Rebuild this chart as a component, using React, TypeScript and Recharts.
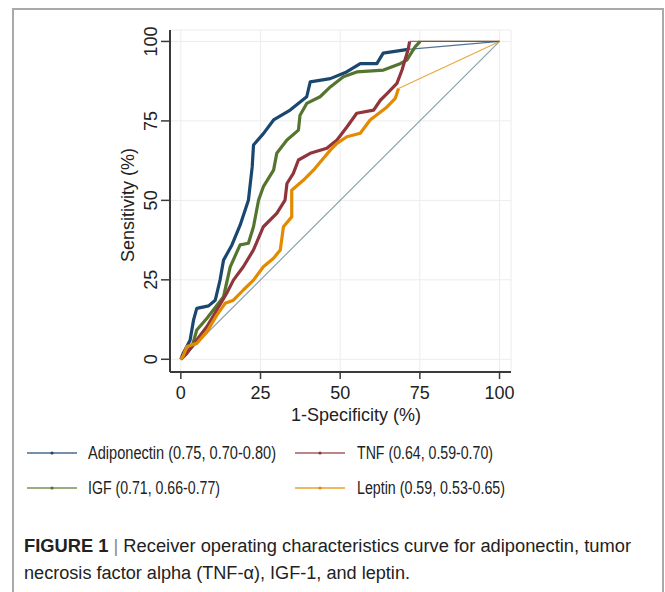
import React from "react"
import { LineChart, Line, XAxis, YAxis, CartesianGrid } from "recharts"

// 1-specificity (%) and sensitivity (%)
const adipoX = [0, 0.8, 2.9, 4, 5, 8.7, 10.8, 12.3, 13.4, 16, 18.6, 21.2, 22.4, 22.8, 25.9, 29.1, 34.3, 39.5, 40.6, 46.9, 52, 56.3, 61.5, 63.5, 71.3]
const adipoY = [0, 2, 6, 12.4, 16, 16.8, 18.6, 24.9, 31.2, 35.9, 42.2, 50, 60.6, 67.4, 71, 75.3, 78.4, 82.6, 87.3, 88.3, 90.4, 93, 93, 96.3, 97.5]

const igfX = [0, 3.5, 5, 8.2, 10.2, 13.4, 15.5, 18.6, 21.2, 22.8, 24.4, 25.9, 29.1, 30.1, 33.3, 36.9, 37.4, 39.5, 43.7, 46.9, 51, 55.2, 63.6, 68.8, 70.9, 73.5, 75.1]
const igfY = [0, 4, 9.2, 12.9, 15.5, 19.7, 29.1, 36, 36.5, 41.7, 50.1, 54.3, 59.5, 64.8, 69, 72.1, 76.8, 80.5, 82.6, 85.7, 88.9, 90.4, 91, 93, 94.1, 98.3, 100]

const tnfX = [0, 1.9, 5, 8.2, 11.3, 14.4, 16.5, 19.6, 22.8, 25.9, 30.1, 32.7, 33.3, 35.3, 36.9, 40.6, 45.8, 49, 52.1, 55.2, 60.5, 62.6, 64.7, 67.8, 69.4, 71.3, 71.8]
const tnfY = [0, 1.9, 6.1, 10.3, 15.5, 20.8, 24.9, 29.1, 34.4, 41.7, 45.9, 50.1, 55.3, 58.5, 62.7, 64.8, 66.4, 69, 73.1, 77.4, 78.4, 81.5, 83.6, 86.8, 91, 97.4, 100]

const leptinX = [0, 0.7, 1.9, 5, 8.2, 11.3, 13.9, 16.5, 19.6, 22.8, 25.9, 29.1, 31.2, 32.2, 34.8, 34.8, 34.8, 38.5, 41.6, 44.3, 46.9, 49, 52.1, 56.3, 59.4, 64.7, 67.3, 68.3]
const leptinY = [0, 1, 4, 5, 8.7, 13.9, 17.6, 18.6, 21.8, 24.9, 29.1, 31.8, 34.4, 41.7, 44.8, 50, 53.2, 56.4, 59.5, 62.7, 65.8, 67.9, 70, 71.1, 75.3, 79.4, 82.1, 85.2]

const endPoint = { x: 100, y: 100 }
const diagonal = [{ x: 0, y: 0 }, endPoint]
const ticks = [0, 25, 50, 75, 100]

const series = [
  { name: "Adiponectin", auc: "(0.75, 0.70-0.80)", xs: adipoX, ys: adipoY, color: "#1a476f" },
  { name: "IGF", auc: "(0.71, 0.66-0.77)", xs: igfX, ys: igfY, color: "#55752f" },
  { name: "TNF ", auc: "(0.64, 0.59-0.70)", xs: tnfX, ys: tnfY, color: "#90353b" },
  { name: "Leptin", auc: "(0.59, 0.53-0.65)", xs: leptinX, ys: leptinY, color: "#e38a00" },
]

const zip = (xs: number[], ys: number[]) => xs.map((x, i) => ({ x, y: ys[i] }))

const font = "'Liberation Sans', Arial, sans-serif"

const XTick = (props: any) => {
  const { x, y, payload } = props
  return (
    <text x={x} y={y + 20} textAnchor="middle" fontSize={18} fill="#222" fontFamily={font}>
      {payload.value}
    </text>
  )
}

const YTick = (props: any) => {
  const { x, y, payload } = props
  const bx = x - 4
  return (
    <text x={bx} y={y} transform={`rotate(-90 ${bx} ${y})`} textAnchor="middle" fontSize={18} fill="#222" fontFamily={font}>
      {payload.value}
    </text>
  )
}

// legend: [row, col], text widths from the figure
const legendPos = [
  { lx: 27, tx: 88, by: 459, w: 188, ly: 453 },
  { lx: 27, tx: 88, by: 494, w: 132, ly: 488 },
  { lx: 295, tx: 357, by: 459, w: 136, ly: 453 },
  { lx: 295, tx: 357, by: 494, w: 148, ly: 488 },
]

export default function App() {
  return (
    <div style={{ position: "absolute", left: 0, top: 0, width: 665, height: 592, background: "#fff", overflow: "hidden" }}>
      <div style={{ position: "absolute", left: 12, top: 8, width: 648, height: 620, border: "2px solid #a9a9a9" }} />
      <div style={{ position: "absolute", left: 0, top: 0 }}>
        <LineChart width={665} height={440} margin={{ top: 30, right: 154, left: 110, bottom: 38 }}>
          <CartesianGrid stroke="#ececec" strokeWidth={1} />
          <XAxis
            type="number"
            dataKey="x"
            domain={[-3.4, 103.6]}
            ticks={ticks}
            allowDataOverflow
            height={30}
            tickSize={7}
            tickMargin={0}
            axisLine={{ stroke: "#3a3a3a", strokeWidth: 2 }}
            tickLine={{ stroke: "#3a3a3a", strokeWidth: 1.5 }}
            tick={<XTick />}
          />
          <YAxis
            type="number"
            dataKey="y"
            domain={[-4, 103.6]}
            ticks={ticks}
            allowDataOverflow
            width={60}
            tickSize={9}
            tickMargin={0}
            axisLine={{ stroke: "#3a3a3a", strokeWidth: 2 }}
            tickLine={{ stroke: "#3a3a3a", strokeWidth: 1.5 }}
            tick={<YTick />}
          />
          <Line data={diagonal} dataKey="y" stroke="#89a5a9" strokeWidth={1.2} dot={false} isAnimationActive={false} />
          {series.map((s) => {
            const pts = zip(s.xs, s.ys)
            return (
              <Line
                key={s.name + "tail"}
                data={[pts[pts.length - 1], endPoint]}
                dataKey="y"
                stroke={s.color}
                strokeOpacity={0.75}
                strokeWidth={1.2}
                dot={false}
                isAnimationActive={false}
              />
            )
          })}
          {series.map((s) => (
            <Line
              key={s.name}
              data={zip(s.xs, s.ys)}
              dataKey="y"
              stroke={s.color}
              strokeWidth={3.2}
              strokeLinejoin="round"
              dot={false}
              isAnimationActive={false}
            />
          ))}
        </LineChart>
      </div>
      <svg width={665} height={592} style={{ position: "absolute", left: 0, top: 0, pointerEvents: "none" }} fontFamily={font}>
        <text x={134} y={205} transform="rotate(-90 134 205)" textAnchor="middle" fontSize={18} fill="#222">
          Sensitivity (%)
        </text>
        <text x={356} y={421} textAnchor="middle" fontSize={18} fill="#222">
          1-Specificity (%)
        </text>
        {series.map((s, i) => {
          const p = legendPos[i]
          return (
            <g key={s.name}>
              <line x1={p.lx} x2={p.lx + 50} y1={p.ly} y2={p.ly} stroke={s.color} strokeWidth={1.4} strokeOpacity={0.8} />
              <circle cx={p.lx + 25} cy={p.ly} r={1.6} fill={s.color} />
              <text x={p.tx} y={p.by} fontSize={18} fill="#222" textLength={p.w} lengthAdjust="spacingAndGlyphs">
                {s.name + " " + s.auc}
              </text>
            </g>
          )
        })}
        <text x={24} y={552} fontSize={18} fill="#222" textLength={607} lengthAdjust="spacingAndGlyphs">
          <tspan fontWeight="bold">FIGURE 1</tspan>
          <tspan fill="#888"> | </tspan>
          <tspan>Receiver operating characteristics curve for adiponectin, tumor</tspan>
        </text>
        <text x={24} y={579} fontSize={18} fill="#222" textLength={386} lengthAdjust="spacingAndGlyphs">
          necrosis factor alpha (TNF-α), IGF-1, and leptin.
        </text>
      </svg>
    </div>
  )
}
